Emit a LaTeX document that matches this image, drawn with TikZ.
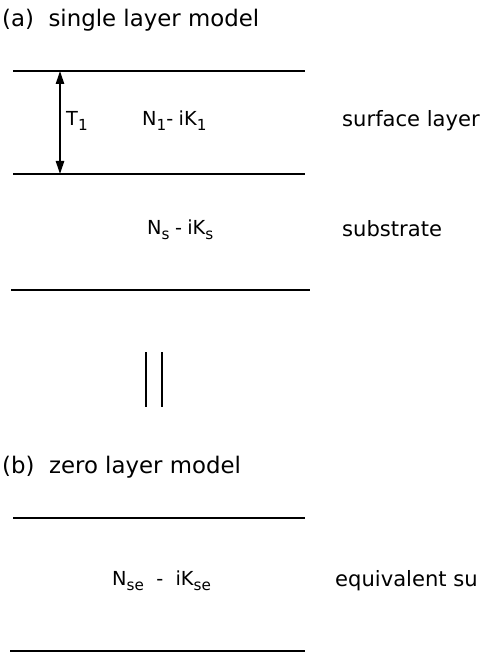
\documentclass[tikz,border=0pt]{standalone}
\usepackage{fontspec}
\setmainfont{DejaVu Sans}
\usetikzlibrary{arrows.meta}
\newcommand{\lsub}[1]{\raisebox{-0.45ex}{\fontsize{13}{15}\selectfont #1}}

\begin{document}
\begin{tikzpicture}[x=0.3mm,y=-0.3mm,every node/.style={inner sep=0pt},
  caption/.style={anchor=west,font=\fontsize{19.5}{22}\selectfont},
  remark/.style={anchor=west,font=\fontsize{18}{20}\selectfont},
  index/.style={anchor=west,font=\fontsize{16.5}{19}\selectfont},
  boundary/.style={line width=1.9pt},
  thick arrow/.style={line width=1.1pt,{Triangle[length=3.9mm,width=2.5mm]}-{Triangle[length=3.9mm,width=2.5mm]}}]
\useasboundingbox (0,0) rectangle (481,653);
% (a) single layer model
\node[caption] (capa) at (2,20) {(a)\ \ single layer model};
\coordinate (top-l) at (13,71); \coordinate (top-r) at (305,71);
\coordinate (mid-l) at (13,174); \coordinate (mid-r) at (305,174);
\coordinate (low-l) at (11,290); \coordinate (low-r) at (310,290);
\draw[boundary] (top-l)--(top-r);
\draw[boundary] (mid-l)--(mid-r);
\draw[boundary] (low-l)--(low-r);
\coordinate (t-up) at (60,71); \coordinate (t-dn) at (60,174);
\draw[thick arrow] (t-up)--(t-dn);
\node[index] (thick) at (66,121) {T\lsub{1}};
\node[index] (n1) at (142,121) {N\lsub{1}-\;iK\lsub{1}};
\node[remark] (surf) at (342,121) {surface layer};
\node[index] (ns) at (147,230) {N\lsub{s}\;-\;iK\lsub{s}};
\node[remark] (subs) at (342,229) {substrate};
% equivalence sign
\coordinate (bar1-a) at (146,352); \coordinate (bar1-b) at (146,407);
\coordinate (bar2-a) at (162,352); \coordinate (bar2-b) at (162,407);
\draw[line width=1.4pt] (bar1-a)--(bar1-b) (bar2-a)--(bar2-b);
% (b) zero layer model
\node[caption] (capb) at (2,467) {(b)\ \ zero layer model};
\coordinate (eq-top-l) at (13,518); \coordinate (eq-top-r) at (305,518);
\coordinate (eq-low-l) at (10,651); \coordinate (eq-low-r) at (305,651);
\draw[boundary] (eq-top-l)--(eq-top-r);
\draw[boundary] (eq-low-l)--(eq-low-r);
\node[index] (nse) at (112,581) {N\lsub{se}\ \ -\ \ iK\lsub{se}};
\node[remark] (equiv) at (335,581) {equivalent su};
\end{tikzpicture}
\end{document}
